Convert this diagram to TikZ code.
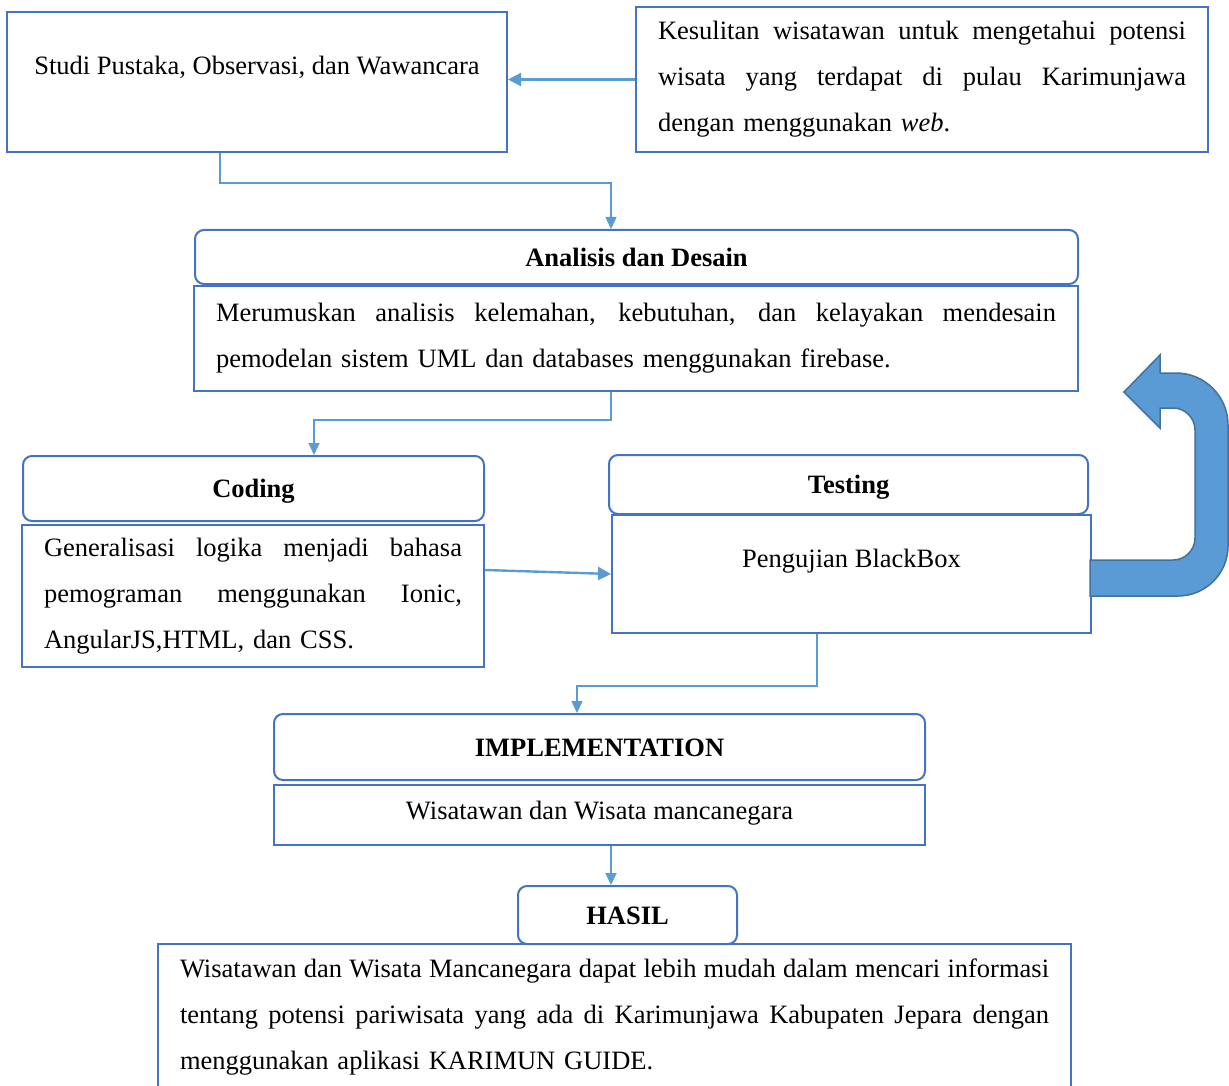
\documentclass[tikz,border=0pt]{standalone}
\usepackage{fontspec}
\setmainfont{Liberation Serif}
\usetikzlibrary{arrows.meta}
\definecolor{boxblue}{HTML}{4472C4}
\definecolor{lineblue}{HTML}{5B9BD5}
\definecolor{arrowedge}{HTML}{41719C}
\newcommand{\JustLine}[2]{{\spaceskip=0pt\xspaceskip=0pt\makebox[#1][s]{#2}}}
\begin{document}
\begin{tikzpicture}[x=1pt,y=-1pt,
  every node/.style={font=\fontsize{26.5}{46}\selectfont},
  plainbox/.style={draw=boxblue, line width=2pt, rectangle, inner sep=0pt},
  headbox/.style={draw=boxblue, line width=2pt, rounded corners=9pt, inner sep=0pt,
    font=\fontsize{26.5}{46}\selectfont\bfseries, text height=20pt, text depth=2pt},
  parabox/.style={draw=boxblue, line width=2pt, inner xsep=22pt, inner ysep=0pt, align=left},
  conn/.style={draw=lineblue, line width=1.4pt, -{Triangle[length=12pt,width=11pt]}},
  connthick/.style={draw=lineblue, line width=2.4pt, -{Triangle[length=13pt,width=13pt]}}
]
\useasboundingbox (0,0) rectangle (1229,1086);

% top row
\node[plainbox, minimum width=500pt, text height=63pt, text depth=77pt] (studi) at (257,82)
  {Studi Pustaka, Observasi, dan Wawancara};
\node[parabox, text width=528pt, minimum height=145pt] (kes) at (922,79.5)
  {\JustLine{528pt}{Kesulitan wisatawan untuk mengetahui potensi}\\
   \JustLine{528pt}{wisata yang terdapat di pulau Karimunjawa}\\
   dengan menggunakan \textit{web}.};

% analisis
\node[headbox, minimum width=883pt, minimum height=54pt] (anahead) at (636.5,257) {Analisis dan Desain};
\node[parabox, text width=840pt, minimum height=105pt] (anabody) at (636,338.5)
  {\JustLine{840pt}{Merumuskan analisis kelemahan, kebutuhan, dan kelayakan mendesain}\\
   pemodelan sistem UML dan databases menggunakan firebase.};

% coding
\node[headbox, minimum width=461pt, minimum height=65pt] (codhead) at (253.5,488.5) {Coding};
\node[parabox, text width=418pt, minimum height=142pt] (codbody) at (253,596)
  {\JustLine{418pt}{Generalisasi logika menjadi bahasa}\\
   \JustLine{418pt}{pemograman menggunakan Ionic,}\\
   AngularJS,HTML, dan CSS.};

% testing
\node[headbox, minimum width=479pt, minimum height=59pt] (testhead) at (848.5,484.5) {Testing};
\node[plainbox, minimum width=479pt, text height=52pt, text depth=66pt] (testbody) at (851.5,574)
  {Pengujian BlackBox};

% implementation
\node[headbox, minimum width=651pt, minimum height=66pt] (implhead) at (599.5,747) {IMPLEMENTATION};
\node[plainbox, minimum width=651pt, minimum height=60pt, text height=12pt, text depth=4pt] (implbody) at (599.5,815)
  {Wisatawan dan Wisata mancanegara};

% hasil
\node[headbox, minimum width=219pt, minimum height=58pt] (hasil) at (627.5,915) {HASIL};
\node[parabox, text width=869pt, minimum height=146pt] (final) at (614.5,1017)
  {\JustLine{869pt}{Wisatawan dan Wisata Mancanegara dapat lebih mudah dalam mencari informasi}\\
   \JustLine{869pt}{tentang potensi pariwisata yang ada di Karimunjawa Kabupaten Jepara dengan}\\
   menggunakan aplikasi KARIMUN GUIDE.};

% connectors
\draw[connthick] (kes.west) -- (kes.west -| studi.east);
\draw[conn] ([xshift=-37pt]studi.south) |- ([xshift=-25.5pt,yshift=46pt]anahead.north)
  -- ([xshift=-25.5pt]anahead.north);
\draw[conn] ([xshift=-25pt]anabody.south) |- ([xshift=60.5pt,yshift=35pt]codhead.north)
  -- ([xshift=60.5pt]codhead.north);
\draw[connthick] ([yshift=26pt]codbody.east) -- (testbody.west);
\draw[conn] ([xshift=-34.5pt]testbody.south) |- ([xshift=-22.5pt,yshift=27pt]implhead.north)
  -- ([xshift=-22.5pt]implhead.north);
\draw[conn, line width=2pt] ([xshift=11.5pt]implbody.south) -- ([xshift=11.5pt]implbody.south |- hasil.north);

% U-turn arrow
\filldraw[fill=lineblue, draw=arrowedge, line width=1.5pt]
  (1090,560) -- (1173,560)
  .. controls (1185.1,560) and (1195,550.1) .. (1195,538)
  -- (1195,430)
  .. controls (1195,417.9) and (1185.1,408) .. (1173,408)
  -- (1160,408) -- (1160,428) -- (1124,392) -- (1160,355) -- (1160,373) -- (1176,373)
  .. controls (1204.7,373) and (1228,396.3) .. (1228,425)
  -- (1228,546)
  .. controls (1228,573.6) and (1205.6,596) .. (1178,596)
  -- (1090,596) -- cycle;
\end{tikzpicture}
\end{document}
